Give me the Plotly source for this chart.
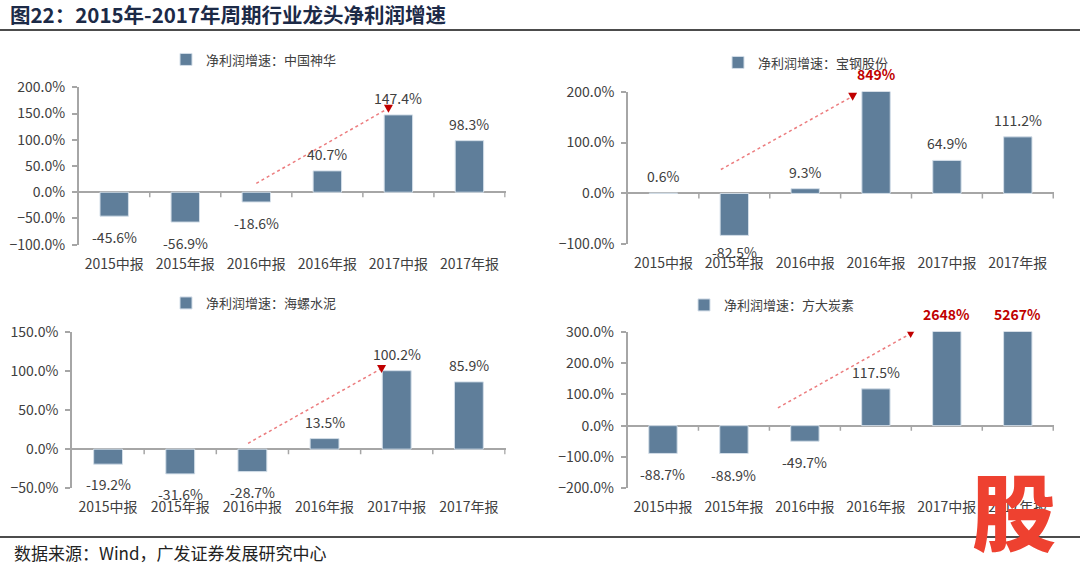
import plotly.graph_objects as go

# ---------------- data ----------------
categories = ["2015中报", "2015年报", "2016中报", "2016年报", "2017中报", "2017年报"]
company_names = ["中国神华", "宝钢股份", "海螺水泥", "方大炭素"]
shenhua = [-45.6, -56.9, -18.6, 40.7, 147.4, 98.3]
baosteel = [0.6, -82.5, 9.3, 849, 64.9, 111.2]
conch = [-19.2, -31.6, -28.7, 13.5, 100.2, 85.9]
fangda = [-88.7, -88.9, -49.7, 117.5, 2648, 5267]
series_values = [shenhua, baosteel, conch, fangda]
legend_prefix = "净利润增速："
title_text = "图22：2015年-2017年周期行业龙头净利润增速"
source_text = "数据来源：Wind，广发证券发展研究中心"

# ---------------- layout config ----------------
W, H = 1080, 564
def px_x(p): return p / W
def px_y(p): return 1 - p / H

panels = [
    dict(xd=(78.7, 505.7), yd=(87.3, 244.7), yr=(-100, 200), dtick=50, neg=-9,
         leg=(166, 59.5), arrow=((2.0, 17), (3.86, 160))),
    dict(xd=(628, 1054), yd=(91.7, 244.3), yr=(-100, 200), dtick=100, neg=-5,
         leg=(718, 62.5), arrow=((0.81, 47), (2.67, 191))),
    dict(xd=(72, 505.7), yd=(331.7, 488.3), yr=(-50, 150), dtick=50, neg=-8,
         leg=(166, 303), arrow=((1.94, 7.5), (3.79, 103))),
    dict(xd=(627.5, 1054), yd=(331.7, 488.3), yr=(-200, 300), dtick=100, neg=-9,
         leg=(684, 305), arrow=((1.62, 57), (3.49, 294))),
]

BAR = "#5F7E9A"
AXIS = "#A6A6A6"
TXT = "#404040"
FONT = "Noto Sans CJK SC"

fig = go.Figure()
annotations = []
shapes = []

for i, (p, vals, nm) in enumerate(zip(panels, series_values, company_names)):
    n = "" if i == 0 else str(i + 1)
    xa, ya = "x" + n, "y" + n
    leg = "legend" + n
    fig.add_trace(go.Bar(
        x=categories, y=vals, name=legend_prefix + nm,
        xaxis=xa, yaxis=ya, legend=leg,
        marker=dict(color=BAR, line=dict(color="#D3DEE8", width=1)),
        width=0.4, hoverinfo="x+y",
    ))
    fig.update_layout({
        "xaxis" + n: dict(domain=[px_x(p["xd"][0]), px_x(p["xd"][1])], anchor=ya,
                          type="category", showline=False, ticks="", showgrid=False,
                          zeroline=False, tickfont=dict(size=14, color=TXT, family=FONT),
                          ticklabelstandoff=9, fixedrange=True, automargin=False),
        "yaxis" + n: dict(domain=[px_y(p["yd"][1]), px_y(p["yd"][0])], anchor=xa,
                          range=list(p["yr"]), dtick=p["dtick"], tick0=0,
                          tickformat=".1f", ticksuffix="%", showgrid=False,
                          showline=True, linecolor=AXIS, linewidth=1.5,
                          ticks="outside", ticklen=5, tickcolor=AXIS, tickwidth=1.5,
                          zeroline=True, zerolinecolor=AXIS, zerolinewidth=1.5,
                          tickfont=dict(size=14, color=TXT, family=FONT),
                          ticklabelstandoff=4, fixedrange=True, automargin=False),
        leg: dict(x=px_x(p["leg"][0]), y=px_y(p["leg"][1]), xanchor="left", yanchor="middle",
                  orientation="h", bgcolor="rgba(0,0,0,0)", borderwidth=0,
                  font=dict(size=13, color=TXT, family=FONT), itemclick=False),
    })
    ymax = p["yr"][1]
    # value labels
    for c, v in zip(categories, vals):
        if v > ymax:
            annotations.append(dict(x=c, y=ymax, xref=xa, yref=ya, text=f"{v:.0f}%",
                                    showarrow=False, yanchor="bottom", yshift=6,
                                    font=dict(size=14, color="#C00000", family=FONT,
                                              weight="bold")))
        elif v >= 0:
            annotations.append(dict(x=c, y=v, xref=xa, yref=ya, text=f"{v:.1f}%",
                                    showarrow=False, yanchor="bottom", yshift=5,
                                    font=dict(size=14, color=TXT, family=FONT)))
        else:
            annotations.append(dict(x=c, y=v, xref=xa, yref=ya, text=f"{v:.1f}%",
                                    showarrow=False, yanchor="top", yshift=p["neg"],
                                    font=dict(size=14, color=TXT, family=FONT)))
    # small ticks on the zero line between categories
    for k in range(len(categories)):
        shapes.append(dict(type="line", xref=xa, yref=ya, x0=k + 0.5, x1=k + 0.5,
                           ysizemode="pixel", yanchor=0, y0=0, y1=-5,
                           line=dict(color=AXIS, width=1.5)))
    # dotted trend arrow
    (sx, sy), (ex, ey) = p["arrow"]
    shapes.append(dict(type="line", xref=xa, yref=ya, x0=sx, y0=sy, x1=ex, y1=ey,
                       line=dict(color="#EC7C7E", width=1.5, dash="dot")))
    shapes.append(dict(type="path", xref=xa, yref=ya, xsizemode="pixel", ysizemode="pixel",
                       xanchor=ex, yanchor=ey, path="M-4.5,3.5 L4.5,3.5 L0,-4.5 Z",
                       fillcolor="#C00000", line=dict(width=0)))

# title, source, rules
annotations.append(dict(x=px_x(8), y=px_y(14), xref="paper", yref="paper", text=title_text,
                        showarrow=False, xanchor="left", yanchor="middle",
                        font=dict(size=20.5, color="#1C2A47", family=FONT, weight="bold")))
annotations.append(dict(x=px_x(12), y=px_y(552), xref="paper", yref="paper", text=source_text,
                        showarrow=False, xanchor="left", yanchor="middle",
                        font=dict(size=17, color="#222222", family=FONT)))
shapes.append(dict(type="line", xref="paper", yref="paper", x0=0, x1=1,
                   y0=px_y(30), y1=px_y(30), line=dict(color="#111111", width=1.5)))
shapes.append(dict(type="line", xref="paper", yref="paper", x0=0, x1=1,
                   y0=px_y(537), y1=px_y(537), line=dict(color="#111111", width=1.3)))
# watermark logo glyph
annotations.append(dict(x=px_x(1014), y=px_y(508), xref="paper", yref="paper", text="股",
                        showarrow=False, xanchor="center", yanchor="middle",
                        font=dict(size=84, color="#EE4130", family=FONT, weight=900)))

fig.update_layout(template="none", width=W, height=H,
                  margin=dict(l=0, r=0, t=0, b=0, pad=0, autoexpand=False),
                  paper_bgcolor="white", plot_bgcolor="white",
                  annotations=annotations, shapes=shapes, showlegend=True,
                  bargap=0.6, font=dict(family=FONT, color=TXT))
fig.write_html("out.html", config={"displayModeBar": False},
               post_script="document.body.style.margin='0';document.body.style.padding='0';"
                           "document.body.style.overflow='hidden';")
